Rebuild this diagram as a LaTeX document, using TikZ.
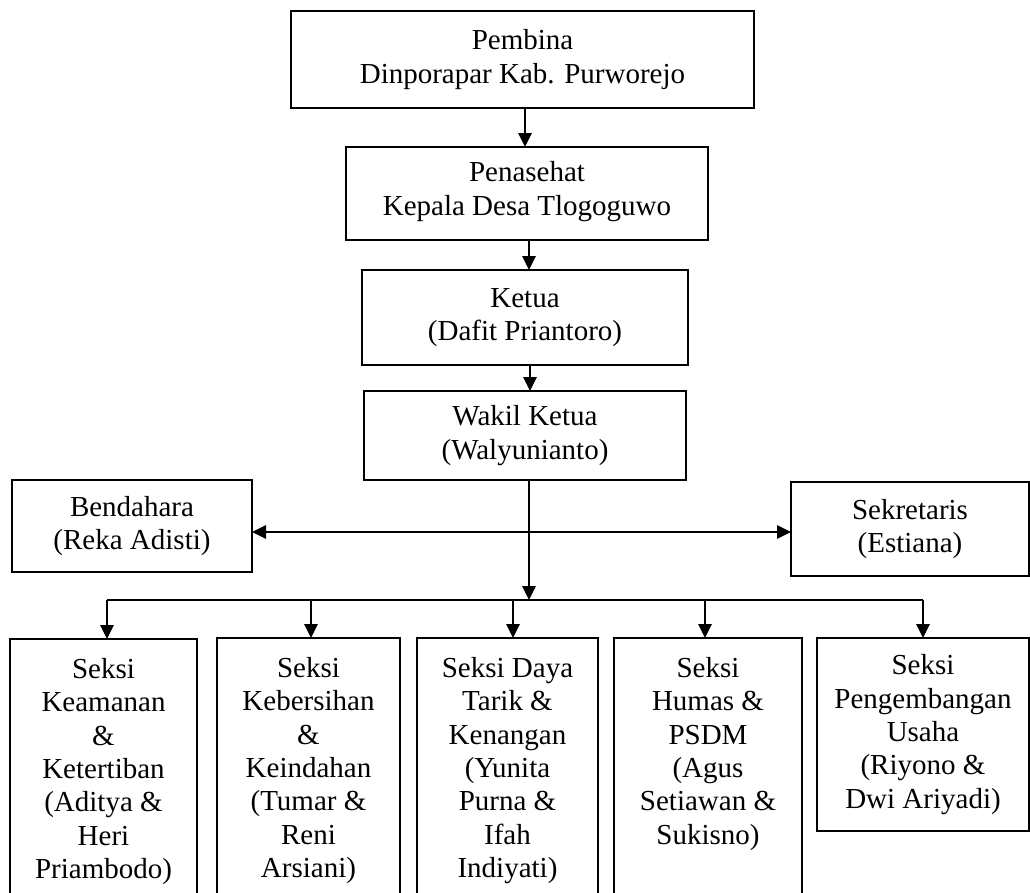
\documentclass[tikz,border=0pt]{standalone}
\usepackage{fontspec}
\setmainfont{Liberation Serif}
\usetikzlibrary{arrows.meta}
\tikzset{
  box/.style={draw, line width=1.5pt, rectangle, inner sep=0pt, outer sep=0pt, align=center,
    font=\fontsize{29}{33.4}\selectfont},
  txt/.style={inner sep=0pt, align=center, font=\fontsize{29}{33.4}\selectfont},
  conn/.style={line width=1.3pt, -{Triangle[length=14pt,width=13.5pt]}},
  bus/.style={line width=1.3pt},
}
\begin{document}
\begin{tikzpicture}[x=1pt,y=-1pt]
\useasboundingbox (0,0) rectangle (1030,892);
\clip (0,0) rectangle (1030,892);
\fill[white] (0,0) rectangle (1030,892);

\node[box, minimum width=463pt, minimum height=97pt] (pem) at (522.5,59.5) {Pembina\\Dinporapar Kab. Purworejo};
\node[box, minimum width=362pt, minimum height=93pt, text depth=10pt] (pen) at (527,193.5) {Penasehat\\Kepala Desa Tlogoguwo};
\node[box, minimum width=326pt, minimum height=95pt] (ket) at (525,317.5) {Ketua\\(Dafit Priantoro)};
\node[box, minimum width=322pt, minimum height=89pt] (wak) at (525,435.5) {Wakil Ketua\\(Walyunianto)};
\node[box, minimum width=240pt, minimum height=92pt] (bend) at (132,526) {Bendahara\\(Reka Adisti)};
\node[box, minimum width=238pt, minimum height=94pt] (sek) at (910,529) {Sekretaris\\(Estiana)};

\node[box, anchor=north west, minimum width=187pt, minimum height=300pt] (b1) at (10,639) {};
\node[box, anchor=north west, minimum width=183pt, minimum height=300pt] (b2) at (217,638) {};
\node[box, anchor=north west, minimum width=181pt, minimum height=300pt] (b3) at (417,638) {};
\node[box, anchor=north west, minimum width=188pt, minimum height=300pt] (b4) at (614,638) {};
\node[box, anchor=north west, minimum width=212pt, minimum height=193pt] (b5) at (817,638) {Seksi\\Pengembangan\\Usaha\\(Riyono \&\\Dwi Ariyadi)};

\node[txt, anchor=north] (t1) at ([yshift=-19pt]b1.north) {Seksi\\Keamanan\\\&\\Ketertiban\\(Aditya \&\\Heri\\Priambodo)};
\node[txt, anchor=north] (t2) at ([yshift=-19pt]b2.north) {Seksi\\Kebersihan\\\&\\Keindahan\\(Tumar \&\\Reni\\Arsiani)};
\node[txt, anchor=north] (t3) at ([yshift=-19pt]b3.north) {Seksi Daya\\Tarik \&\\Kenangan\\(Yunita\\Purna \&\\Ifah\\Indiyati)};
\node[txt, anchor=north] (t4) at ([yshift=-19pt]b4.north) {Seksi\\Humas \&\\PSDM\\(Agus\\Setiawan \&\\Sukisno)};

% top chain
\coordinate (a1) at (525,0);
\coordinate (a2) at (529,0);
\coordinate (a3) at (530,0);
\draw[conn] (pem.south -| a1) -- (pen.north -| a1);
\draw[conn] (pen.south -| a2) -- (ket.north -| a2);
\draw[conn] (ket.south -| a3) -- (wak.north -| a3);

% side arrows
\coordinate (hy) at (529,532);
\draw[line width=1.3pt, {Triangle[length=14pt,width=13.5pt]}-{Triangle[length=14pt,width=13.5pt]}] (bend.east |- hy) -- (sek.west |- hy);

% main trunk to bus
\coordinate (busc) at (529,600);
\draw[conn] (busc |- wak.south) -- (busc);

% bus
\coordinate (p1) at (107,600);
\coordinate (p2) at (311,600);
\coordinate (p3) at (513,600);
\coordinate (p4) at (705,600);
\coordinate (p5) at (923,600);
\draw[bus] (p1) -- (p5);
\draw[conn] (p1) -- (p1 |- b1.north);
\draw[conn] (p2) -- (p2 |- b2.north);
\draw[conn] (p3) -- (p3 |- b3.north);
\draw[conn] (p4) -- (p4 |- b4.north);
\draw[conn] (p5) -- (p5 |- b5.north);
\end{tikzpicture}
\end{document}
